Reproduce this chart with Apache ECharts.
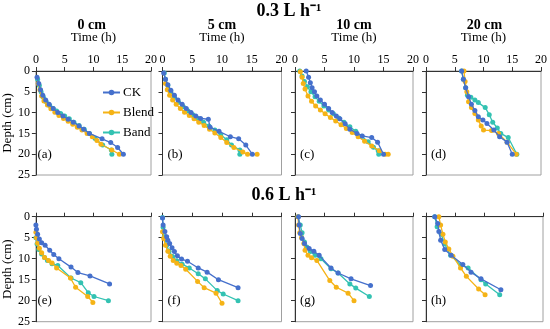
<!DOCTYPE html>
<html><head><meta charset="utf-8">
<script src="https://cdn.jsdelivr.net/npm/echarts@6/dist/echarts.min.js"></script>
<style>html,body{margin:0;padding:0;background:#fff}#c{width:550px;height:329px}</style>
</head><body><div id="c"></div>
<script>
// ---- data: [time (h), depth (cm)] ----
const rowTitles = ['0.3 L h\u207B\u00B9', '0.6 L h\u207B\u00B9'];
const colTitles = ['0 cm', '5 cm', '10 cm', '20 cm'];
const panelLabels = ['(a)','(b)','(c)','(d)','(e)','(f)','(g)','(h)'];
const seriesNames = ['CK', 'Blend', 'Band'];
const xTicks = [0, 5, 10, 15, 20];
const yTicks = [0, 5, 10, 15, 20, 25];

const ckA = [[0.2,1.5],[0.5,3],[0.8,4.5],[1.2,5.8],[1.7,7],[2.3,8],[3,9],[3.8,10],[4.7,10.8],[5.6,11.6],[6.5,12.3],[7.5,13.2],[8.3,14],[9.3,15],[11.5,16.3],[13,17.2],[14.2,18.4],[15.2,20]];
const blendA = [[0.4,3],[0.7,4.5],[1,6],[1.4,7.2],[2,8.2],[2.6,9.1],[3.3,9.9],[4,10.7],[4.8,11.4],[5.6,12.1],[6.4,12.8],[7.2,13.5],[8,14.2],[8.9,15],[9.8,15.8],[10.6,16.7],[11.3,17.6],[13.2,19],[14.5,20]];
const bandA = [[0.3,2],[0.6,3.5],[0.9,5],[1.3,6.3],[1.8,7.4],[2.4,8.3],[3,9],[3.6,9.6],[4.3,10.2],[5,10.8],[5.8,11.5],[6.6,12.3],[7.5,13.1],[8.4,14],[9.3,15],[10.3,16.2],[11.6,17.8],[13.1,19],[13.2,20]];

const ckB = [[0.2,0.5],[0.5,2],[0.9,3.3],[1.4,4.6],[2,5.8],[2.6,7],[3.3,8],[4,9],[4.8,10],[5.6,10.8],[6.4,11.4],[7.7,11.6],[8,13.5],[9.5,14.5],[11.4,15.8],[12.8,16.3],[14,17.8],[15.1,20]];
const blendB = [[0.5,3],[0.8,4.5],[1.2,5.8],[1.7,7],[2.3,8],[3,9],[3.7,9.9],[4.5,10.7],[5.3,11.5],[6.1,12.3],[7,13.1],[7.9,14],[8.8,14.9],[9.8,16],[10.8,17.2],[12,18.4],[13.5,19.5],[14.3,20],[15.9,20]];
const bandB = [[0.3,0.5],[0.5,2],[0.9,3.5],[1.4,5],[2,6.3],[2.7,7.5],[3.5,8.6],[4.3,9.6],[5.1,10.5],[6,11.4],[6.9,12.3],[7.8,13.2],[8.8,14.2],[9.8,15.3],[10.8,16.5],[11.6,17.8],[13,19],[13,20]];

const ckC = [[1.9,0],[2.3,1.5],[2.6,2.8],[2.9,4],[3.3,5],[3.7,6],[4.3,7],[5,8],[5.7,9],[6.3,10],[7,10.8],[7.6,11.5],[8.5,12.7],[9.3,14],[10.5,15],[11.4,15.6],[13,16],[14,17.1],[15,20]];
const blendC = [[0.9,0.2],[1.2,1.5],[1.4,3],[1.7,4.3],[2.2,6],[2.8,7.3],[3.5,8.4],[4.3,9.4],[5.1,10.3],[6,11.2],[6.9,12],[7.8,12.9],[8.7,13.8],[9.7,14.8],[10.7,15.8],[11.8,16.9],[13,18],[14.3,19.2],[15.3,20],[15.8,20]];
const bandC = [[0.8,0],[1.2,1.2],[1.6,2.5],[2.1,3.8],[2.7,5],[3.4,6.2],[4.1,7.3],[4.9,8.4],[5.7,9.4],[6.5,10.3],[7.4,11.3],[8.3,12.3],[9.3,13.4],[10.3,14.5],[11.3,15.7],[12.4,17],[13.3,18.3],[14.1,19.2],[14.2,20]];

const ckD = [[6.2,0],[6.5,2],[6.9,4],[7.4,6.2],[7.9,8],[8.5,9.5],[9.1,11],[9.9,11.8],[10.6,12.6],[11.8,14.2],[12.8,15.8],[14.1,17.1],[15,20]];
const blendD = [[6.6,0],[6.8,2.5],[7.1,5],[7.4,7.4],[7.9,8.8],[8.5,10.2],[9.1,11.8],[9.6,13.2],[10,14.2],[11.4,14.3],[12.6,15],[14.1,17.1],[15.7,20]];
const bandD = [[6.2,0],[6.5,2],[6.9,4],[7.2,5.8],[7.8,6.3],[8.5,7],[9.1,7.6],[10.3,8.8],[11,10.5],[11.6,12.3],[12.4,13.7],[13,15],[14.3,16],[15.8,20]];

const ckE = [[0,2],[0.1,3],[0.3,4.2],[0.6,5.3],[1,6.2],[1.6,6.8],[2.4,8],[3.1,9],[4,10],[6.1,12],[7.3,13.3],[9.4,14.1],[12.8,16]];
const blendE = [[0,3.7],[0.1,5],[0.3,6.3],[0.6,7.5],[1,8.6],[1.5,9.7],[2.2,10.4],[2.8,11],[3.6,12.2],[6,14.6],[6.9,16.8],[9,19],[9.9,20.4]];
const bandE = [[0,5],[0.2,6.5],[0.5,7.8],[1,8.9],[1.5,9.7],[2,10.4],[2.8,11.2],[3.8,11.6],[6.1,14.6],[7.8,15.7],[9.1,18.1],[10.1,19],[12.6,20]];

const ckF = [[0,0.3],[0.1,2],[0.4,3.5],[0.7,4.8],[0.9,5.6],[1.2,6.4],[1.6,7.4],[2,8.3],[2.5,9.3],[3.2,10.1],[4.2,10.6],[6,12.2],[7.5,13.2],[9.4,15],[12.7,16.9]];
const blendF = [[0,3.6],[0.2,5.2],[0.5,6.8],[0.9,8.2],[1.3,9.4],[1.8,10.4],[2.4,11.1],[3.1,11.6],[3.9,12.5],[5.9,15.4],[7,16.9],[9,18.2],[10,20.6]];
const bandF = [[0,0.2],[0.1,2.5],[0.3,4.8],[0.7,6.8],[1.1,8.2],[1.7,9.5],[2.4,10.5],[3.3,11.3],[4.5,12.2],[6,13.6],[7.2,14.8],[9.2,17.6],[10.2,18.4],[12.7,20]];

const ckG = [[0.6,0],[0.7,2],[0.9,4],[1.2,5.2],[1.6,6.4],[2.4,7.6],[3.2,8.2],[4.1,9.2],[6.1,12.2],[7.3,13.4],[9.5,14.8],[12.8,16.4]];
const blendG = [[0.5,0],[0.6,2],[0.8,3.8],[1.1,5],[1.5,6.4],[1.7,8],[2.2,9.2],[2.8,9.8],[3.7,10.4],[5.9,15.2],[7,16.8],[9,18.2],[10,20]];
const bandG = [[0.5,0],[0.9,2],[1.2,3.8],[1.6,6],[2,7.2],[2.6,8.3],[3.4,9.2],[4.4,10],[6.1,12.4],[7.3,13.4],[9.3,16],[10.3,17],[12.6,19]];

const ckH = [[1.5,0],[2,1.6],[2.2,3.5],[2.5,5.6],[3.2,7.8],[4.3,9.2],[6.3,11.4],[7.7,13.2],[9.4,14.8],[12.8,17.4]];
const blendH = [[2.2,0],[2.5,2],[2.9,4.2],[3.3,6],[3.9,7.7],[4.6,9.4],[5.9,12.2],[6.9,14.2],[9,17.2],[10.1,18.6]];
const bandH = [[1.5,0],[1.9,2.4],[2.6,4.2],[3.2,6.5],[4.2,9.2],[6,11.6],[7.2,12.2],[9.4,15],[10.2,16],[12.6,18.6]];

const panels = [
  [ckA, blendA, bandA], [ckB, blendB, bandB], [ckC, blendC, bandC], [ckD, blendD, bandD],
  [ckE, blendE, bandE], [ckF, blendF, bandF], [ckG, blendG, bandG], [ckH, blendH, bandH]
];

// ---- layout / style ----
const FONT = '"Liberation Serif", "Times New Roman", serif';
const colors = ['#4570CC', '#F5B316', '#33C2B2'];
const colLeft = [32.5, 162.5, 295, 426];
const colWidth = [118.5, 119, 118, 117];
const rowTop = [71, 216.7];
const rowHeight = [104, 105];

const grids = [], xAxes = [], yAxes = [], series = [], graphics = [];
panels.forEach((p, i) => {
  const row = Math.floor(i / 4), col = i % 4;
  grids.push({left: colLeft[col], top: rowTop[row], width: colWidth[col], height: rowHeight[row],
    show: true, borderColor: '#a0a0a0', borderWidth: 1, backgroundColor: 'transparent', containLabel: false});
  xAxes.push({gridIndex: i, type: 'value', position: 'top', min: xTicks[0], max: xTicks[xTicks.length-1], interval: 5,
    axisLine: {show: true, onZero: false, lineStyle: {color: '#333', width: 1}},
    axisTick: {show: true, inside: false, length: 4, lineStyle: {color: '#333'}},
    axisLabel: {show: row === 0, margin: 5, color: '#000', fontFamily: FONT, fontSize: 12},
    splitLine: {show: false},
    name: row === 0 ? 'Time (h)' : '', nameLocation: 'middle', nameGap: 27,
    nameTextStyle: {color: '#000', fontFamily: FONT, fontSize: 13}});
  yAxes.push({gridIndex: i, type: 'value', inverse: true, min: yTicks[0], max: yTicks[yTicks.length-1], interval: 5,
    axisLine: {show: true, onZero: false, lineStyle: {color: '#333', width: 1}},
    axisTick: {show: true, inside: false, length: 4, lineStyle: {color: '#333'}},
    axisLabel: {show: col === 0, margin: 6, color: '#000', fontFamily: FONT, fontSize: 12},
    splitLine: {show: false},
    name: col === 0 ? 'Depth (cm)' : '', nameLocation: 'middle', nameGap: 18, nameRotate: 90,
    nameTextStyle: {color: '#000', fontFamily: FONT, fontSize: 13}});
  p.forEach((d, k) => {
    series.push({type: 'line', name: seriesNames[k], xAxisIndex: i, yAxisIndex: i, data: d,
      symbol: 'circle', symbolSize: 5, showSymbol: true,
      lineStyle: {width: 1.3, color: colors[k]}, itemStyle: {color: colors[k]}, z: 3 - k + 2});
  });
  graphics.push({type: 'text', x: colLeft[col] + 5, y: rowTop[row] + rowHeight[row] * 0.8,
    style: {text: panelLabels[i], fill: '#000', font: '13px ' + FONT, align: 'left', verticalAlign: 'middle'}});
  if (row === 0) {
    graphics.push({type: 'text', x: colLeft[col] + colWidth[col] / 2, y: 25,
      style: {text: colTitles[col], fill: '#000', font: 'bold 14px ' + FONT, align: 'center', verticalAlign: 'middle'}});
  }
});
graphics.push({type: 'text', x: 289, y: 11,
  style: {text: rowTitles[0], fill: '#000', font: 'bold 18px ' + FONT, align: 'center', verticalAlign: 'middle'}});
graphics.push({type: 'text', x: 284, y: 195,
  style: {text: rowTitles[1], fill: '#000', font: 'bold 18px ' + FONT, align: 'center', verticalAlign: 'middle'}});

const chart = echarts.init(document.getElementById('c'), null, {renderer: 'canvas'});
chart.setOption({
  animation: false,
  backgroundColor: '#fff',
  grid: grids, xAxis: xAxes, yAxis: yAxes, series: series,
  legend: {data: seriesNames, orient: 'vertical', left: 102, top: 86, padding: 0, itemWidth: 17, itemHeight: 7, itemGap: 7,
    textStyle: {fontFamily: FONT, fontSize: 13, color: '#000', padding: [0, 0, 0, -2]}},
  graphic: graphics
});
</script></body></html>
